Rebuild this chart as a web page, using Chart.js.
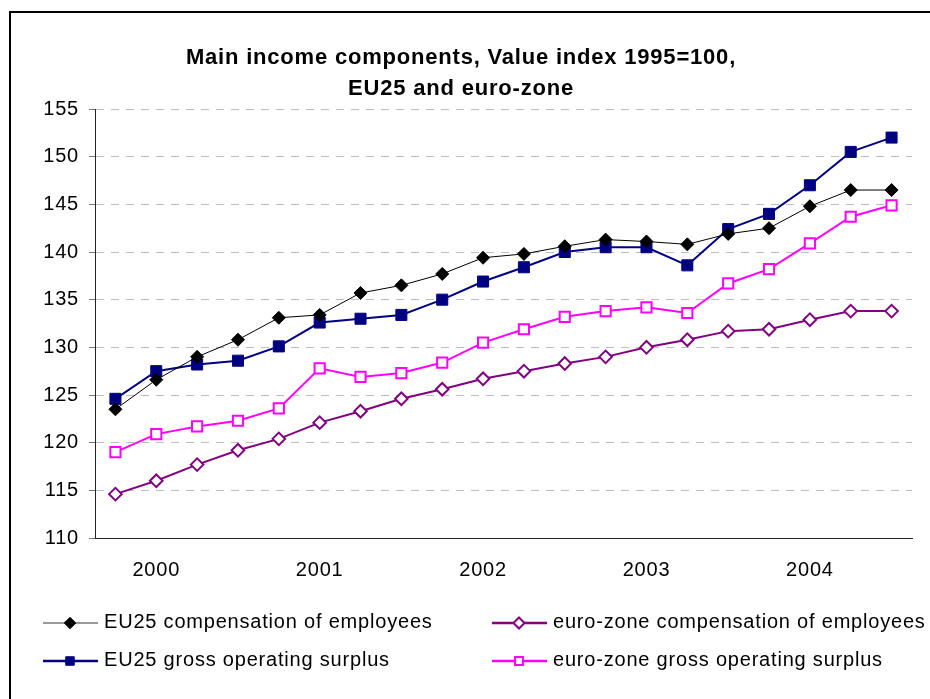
<!DOCTYPE html>
<html lang="en">
<head>
    <meta charset="UTF-8">
    <title>Main income components</title>
    <script src="https://cdn.jsdelivr.net/npm/chart.js"></script>
    <style>
        html, body { margin: 0; padding: 0; background: #fff; }
        #wrap { width: 930px; height: 699px; }
    </style>
</head>
<body>
    <div id="wrap"><canvas id="incomeChart" width="930" height="699"></canvas></div>

    <script>
        // quarterly data, 2000Q1 .. 2004Q4
        const quarters = [
            '2000Q1', '2000Q2', '2000Q3', '2000Q4',
            '2001Q1', '2001Q2', '2001Q3', '2001Q4',
            '2002Q1', '2002Q2', '2002Q3', '2002Q4',
            '2003Q1', '2003Q2', '2003Q3', '2003Q4',
            '2004Q1', '2004Q2', '2004Q3', '2004Q4'
        ];
        const yearLabels = ['2000', '2001', '2002', '2003', '2004'];

        const eu25Compensation = [123.5, 126.6, 129.0, 130.8, 133.1, 133.4, 135.7, 136.5, 137.7, 139.4,
                                  139.8, 140.6, 141.3, 141.1, 140.8, 141.9, 142.5, 144.8, 146.5, 146.5];
        const euroCompensation = [114.6, 116.0, 117.7, 119.2, 120.4, 122.1, 123.3, 124.6, 125.6, 126.7,
                                  127.5, 128.3, 129.0, 130.0, 130.8, 131.7, 131.9, 132.9, 133.8, 133.8];
        const eu25Surplus = [124.6, 127.5, 128.2, 128.6, 130.1, 132.6, 133.0, 133.4, 135.0, 136.9,
                             138.4, 140.0, 140.5, 140.5, 138.6, 142.4, 144.0, 147.0, 150.5, 152.0];
        const euroSurplus = [119.0, 120.9, 121.7, 122.3, 123.6, 127.8, 126.9, 127.3, 128.4, 130.5,
                             131.9, 133.2, 133.8, 134.2, 133.6, 136.7, 138.2, 140.9, 143.7, 144.9];

        const yTicks = [110, 115, 120, 125, 130, 135, 140, 145, 150, 155];

        const FONT = "'Liberation Sans', Arial, sans-serif";

        // white page, frame round the chart and the slightly wide letter spacing of the original
        const framePlugin = {
            id: 'frame',
            beforeDraw(chart) {
                const ctx = chart.ctx;
                ctx.save();
                ctx.fillStyle = '#fff';
                ctx.fillRect(0, 0, chart.width, chart.height);
                ctx.strokeStyle = '#000';
                ctx.lineWidth = 2;
                ctx.strokeRect(10, 12, chart.width + 20, chart.height + 20);
                ctx.restore();
                ctx.letterSpacing = '0.8px';
            }
        };

        function drawMarker(ctx, style, r, x, y) {
            if (style === 'rectRot') {
                ctx.moveTo(x, y - r);
                ctx.lineTo(x + r, y);
                ctx.lineTo(x, y + r);
                ctx.lineTo(x - r, y);
                ctx.closePath();
            } else {
                const h = r * 0.62;
                ctx.rect(x - h, y - h, 2 * h, 2 * h);
            }
        }

        // two column legend with line + marker samples
        const lineLegend = {
            id: 'lineLegend',
            afterDraw(chart) {
                const ctx = chart.ctx;
                const spots = [
                    { x: 43, y: 623 }, { x: 492, y: 623 },
                    { x: 43, y: 661 }, { x: 492, y: 661 }
                ];
                ctx.save();
                chart.data.datasets.forEach((ds, i) => {
                    const s = spots[i];
                    ctx.strokeStyle = ds.legendLine || ds.borderColor;
                    ctx.lineWidth = ds.borderWidth + 0.5;
                    ctx.beginPath();
                    ctx.moveTo(s.x, s.y);
                    ctx.lineTo(s.x + 55, s.y);
                    ctx.stroke();

                    ctx.fillStyle = ds.pointBackgroundColor;
                    ctx.strokeStyle = ds.pointBorderColor;
                    ctx.lineWidth = ds.pointBorderWidth;
                    ctx.beginPath();
                    drawMarker(ctx, ds.pointStyle, ds.pointRadius * 0.88, s.x + 27, s.y);
                    ctx.fill();
                    ctx.stroke();

                    ctx.fillStyle = '#000';
                    ctx.font = '20px ' + FONT;
                    ctx.textBaseline = 'middle';
                    ctx.textAlign = 'left';
                    ctx.fillText(ds.label, s.x + 61, s.y - 1);
                });
                ctx.restore();
            }
        };

        new Chart(document.getElementById('incomeChart'), {
            type: 'line',
            data: {
                labels: quarters,
                datasets: [
                    {
                        label: 'EU25 compensation of employees',
                        data: eu25Compensation,
                        borderColor: '#000',
                        legendLine: '#777',
                        borderWidth: 1,
                        pointStyle: 'rectRot',
                        pointRadius: 6.5,
                        pointBackgroundColor: '#000',
                        pointBorderColor: '#000',
                        pointBorderWidth: 1
                    },
                    {
                        label: 'euro-zone compensation of employees',
                        data: euroCompensation,
                        borderColor: '#800080',
                        borderWidth: 2,
                        pointStyle: 'rectRot',
                        pointRadius: 6.3,
                        pointBackgroundColor: '#fff',
                        pointBorderColor: '#800080',
                        pointBorderWidth: 2
                    },
                    {
                        label: 'EU25 gross operating surplus',
                        data: eu25Surplus,
                        borderColor: '#000080',
                        borderWidth: 2,
                        pointStyle: 'rect',
                        pointRadius: 7.8,
                        pointBackgroundColor: '#000080',
                        pointBorderColor: '#000080',
                        pointBorderWidth: 1
                    },
                    {
                        label: 'euro-zone gross operating surplus',
                        data: euroSurplus,
                        borderColor: '#ff00ff',
                        borderWidth: 2,
                        pointStyle: 'rect',
                        pointRadius: 7.2,
                        pointBackgroundColor: '#fff',
                        pointBorderColor: '#ff00ff',
                        pointBorderWidth: 2
                    }
                ]
            },
            options: {
                responsive: false,
                animation: false,
                tension: 0,
                layout: { padding: { left: 10, right: 18, top: 0, bottom: 101 } },
                plugins: {
                    legend: { display: false },
                    tooltip: { enabled: false },
                    title: {
                        display: true,
                        text: ['Main income components, Value index 1995=100,', 'EU25 and euro-zone'],
                        color: '#000',
                        font: { family: FONT, size: 22, weight: 'bold', lineHeight: '31px' },
                        padding: { top: 42, bottom: 5 }
                    }
                },
                scales: {
                    x: {
                        offset: true,
                        grid: { display: false },
                        border: { display: true, color: '#222', width: 1 },
                        ticks: {
                            autoSkip: false,
                            maxRotation: 0,
                            color: '#000',
                            padding: 12,
                            font: { family: FONT, size: 20 },
                            callback: (v, i) => (i % 4 === 1 ? yearLabels[(i - 1) / 4] : '')
                        },
                        afterFit: s => { s.height = 60; }
                    },
                    y: {
                        min: yTicks[0],
                        max: yTicks[yTicks.length - 1],
                        afterBuildTicks: s => { s.ticks = yTicks.map(v => ({ value: v })); },
                        grid: {
                            color: '#bdbdbd',
                            lineWidth: 1,
                            tickColor: '#777',
                            tickLength: 6,
                            tickBorderDash: []
                        },
                        border: { display: true, color: '#222', width: 1, dash: [8, 7] },
                        ticks: {
                            color: '#000',
                            padding: 10,
                            font: { family: FONT, size: 20 }
                        },
                        afterFit: s => { s.width = 85; }
                    }
                }
            },
            plugins: [framePlugin, lineLegend]
        });
    </script>
</body>
</html>
